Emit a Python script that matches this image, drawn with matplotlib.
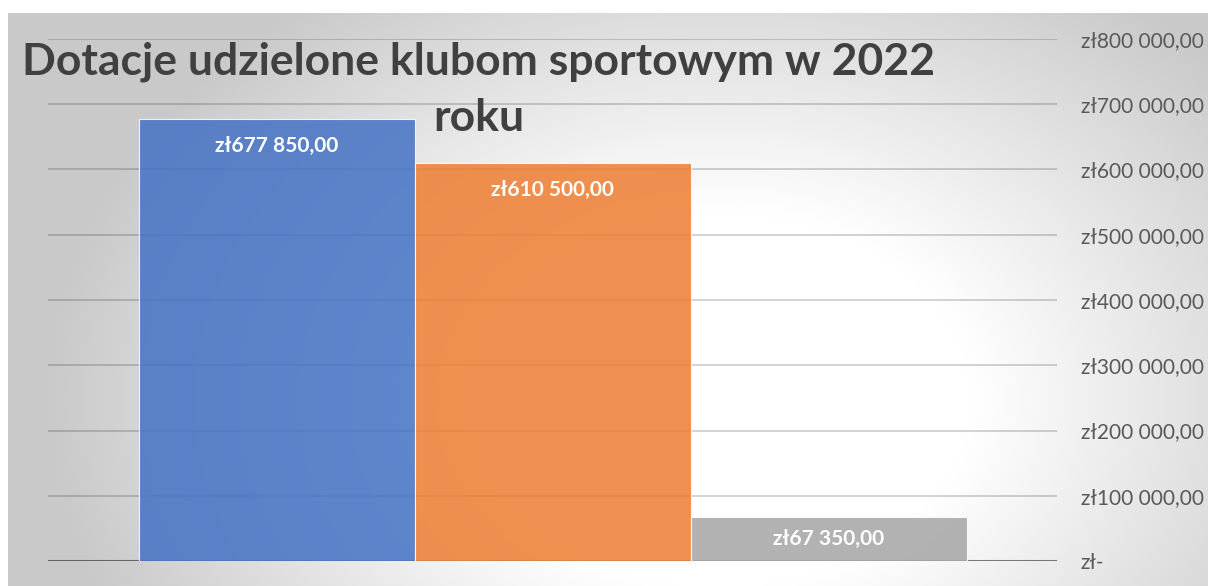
import numpy as np
import matplotlib
matplotlib.use('Agg')
import matplotlib.pyplot as plt
from matplotlib.ticker import FuncFormatter

# Dane
kwoty = [677850.00, 610500.00, 67350.00]
kolory = ['#4472C4', '#ED7D31', '#A5A5A5']
tytul = ['Dotacje udzielone klubom sportowym w 2022', 'roku']
yticks = [0, 100000, 200000, 300000, 400000, 500000, 600000, 700000, 800000]


def zl(v):
    if v == 0:
        return 'zł-'
    s = f'{v:,.2f}'.replace(',', ' ').replace('.', ',')
    return 'zł' + s


W, H = 1208, 586
fig = plt.figure(figsize=(W / 100, H / 100), dpi=100)
fig.patch.set_facecolor('white')

# Tlo - gradient radialny
bg = fig.add_axes([8 / W, 0, 1 - 8 / W, 1 - 13 / H])
xx, yy = np.meshgrid(np.linspace(8, W, 400), np.linspace(13, H, 200))
r = np.sqrt(((xx - 720) / 560) ** 2 + ((yy - 400) / 420) ** 2)
val = 1 - 0.21 * np.clip((r - 0.45) / 0.75, 0, 1)
bg.imshow(np.dstack([val, val, val]), aspect='auto', extent=[0, 1, 0, 1])
bg.set_axis_off()

# Wykres
ax = fig.add_axes([48 / W, 25 / H, (1057 - 48) / W, (561 - 39) / H])
ax.patch.set_alpha(0)
x = np.arange(len(kwoty))
bars = ax.bar(x, kwoty, width=1.0, color=kolory, alpha=0.85,
              edgecolor='white', linewidth=0.8, zorder=3)
ax.set_xlim(-0.5 - 90.5 / 276, len(kwoty) - 0.5 + 90.5 / 276)
ax.set_ylim(0, 800000)
ax.set_yticks(yticks)
ax.yaxis.set_major_formatter(FuncFormatter(lambda v, p: zl(v)))
ax.yaxis.tick_right()
ax.tick_params(axis='y', length=0, pad=17, labelsize=15, labelcolor='#595959')
for lab in ax.get_yticklabels():
    lab.set_fontfamily('Lato')
ax.set_xticks([])
ax.grid(axis='y', color='black', alpha=0.2, linewidth=1.2, zorder=0)
for s in ax.spines.values():
    s.set_visible(False)
ax.axhline(0, color='black', alpha=0.4, linewidth=1.5, zorder=1)

for b, v in zip(bars, kwoty):
    ax.text(b.get_x() + b.get_width() / 2, v - min(42000, v * 0.5), zl(v), ha='center',
            va='center', color='white', fontsize=15, fontweight='bold', fontfamily='Lato',
            zorder=4)

for t, y in zip(tytul, [62, 118]):
    fig.text(479 / W, 1 - y / H, t, ha='center', va='center', fontsize=32,
             fontweight='bold', color='#404040', fontfamily='Lato')

fig.savefig('out.png', dpi=100)
